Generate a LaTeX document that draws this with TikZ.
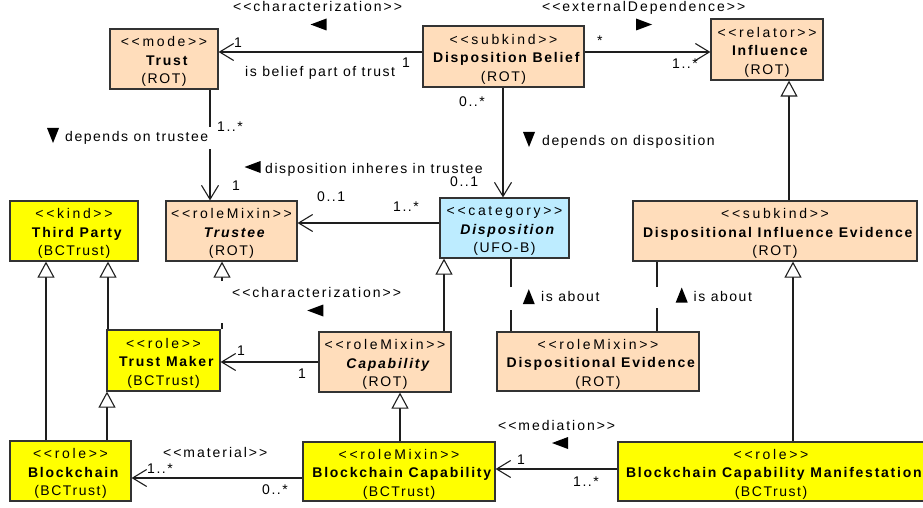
\documentclass[tikz,border=0pt]{standalone}
\usepackage{fontspec}
\setmainfont{Liberation Sans}
\newfontfamily\stfont[LetterSpace=19]{Liberation Sans}
\newfontfamily\estfont[LetterSpace=14]{Liberation Sans}
\newfontfamily\bdfont[LetterSpace=12.5]{Liberation Sans}
\newfontfamily\rgfont[LetterSpace=11]{Liberation Sans}
\usetikzlibrary{arrows.meta}
\definecolor{rot}{RGB}{255,221,187}
\definecolor{ufo}{RGB}{189,236,255}
\definecolor{bct}{RGB}{255,255,0}
\definecolor{bd}{RGB}{51,51,51}
\definecolor{ln}{RGB}{30,30,30}
\newcommand\lgl[1]{<\kern#1em<}
\newcommand\rgl[1]{>\kern#1em>}
\newcommand\est[1]{\lgl{0.14}#1\rgl{0.14}}
\newcommand\ub[4][\bfseries]{\rule{0pt}{15.5pt}{\stfont\lgl{0.19}#2\rgl{0.19}}\\{\bdfont#1 #3}\\{\rgfont(#4)}}
\begin{document}
\begin{tikzpicture}[x=1pt,y=-1pt,
  box/.style={draw=bd, line width=1.2pt, inner sep=0pt, align=center, font={\fontsize{14pt}{18.5pt}\selectfont}},
  lbl/.style={inner sep=0pt, anchor=base west, font={\rgfont\fontsize{14pt}{16pt}\selectfont}},
  slbl/.style={inner sep=0pt, anchor=base west, font={\estfont\fontsize{14pt}{16pt}\selectfont}},
  conn/.style={draw=ln, line width=1.1pt},
  assoc/.style={conn, -{Straight Barb[length=14pt,width=17pt]}},
  gen/.style={conn, -{Triangle[open,length=16pt,width=17pt,fill=white]}},
  mkL/.pic={\fill (-8,0) -- (8,-6) -- (8,6) -- cycle;},
  mkR/.pic={\fill (8,0) -- (-8,-6) -- (-8,6) -- cycle;},
  mkU/.pic={\fill (0,-7.5) -- (6,7.5) -- (-6,7.5) -- cycle;},
  mkD/.pic={\fill (0,7.5) -- (6,-7.5) -- (-6,-7.5) -- cycle;}
]
\useasboundingbox[fill=white] (0,0) rectangle (923,508);
% boxes
\node[box,fill=rot,minimum width=108pt,minimum height=60pt] (trust) at (164,59) {\ub{mode}{Trust}{ROT}};
\node[box,fill=rot,minimum width=161pt,minimum height=61pt] (db) at (503.5,56.5) {\ub{subkind}{Disposition Belief}{ROT}};
\node[box,fill=rot,minimum width=112pt,minimum height=61pt] (infl) at (767,49.5) {\ub{relator}{Influence}{ROT}};
\node[box,fill=bct,minimum width=128pt,minimum height=60pt] (third) at (74,231) {\ub{kind}{Third Party}{BCTrust}};
\node[box,fill=rot,minimum width=131pt,minimum height=60pt] (trustee) at (231.5,231) {\ub[\bfseries\itshape]{roleMixin}{Trustee}{ROT}};
\node[box,fill=ufo,minimum width=129pt,minimum height=60pt] (disp) at (504.5,228) {\ub[\bfseries\itshape]{category}{Disposition}{UFO-B}};
\node[box,fill=rot,minimum width=284pt,minimum height=60pt] (die) at (775,231) {\ub{subkind}{Dispositional Influence Evidence}{ROT}};
\node[box,fill=bct,minimum width=113pt,minimum height=61pt] (tm) at (163.5,360.5) {\ub{role}{Trust Maker}{BCTrust}};
\node[box,fill=rot,minimum width=132pt,minimum height=60pt] (cap) at (385,362) {\ub[\bfseries\itshape]{roleMixin}{Capability}{ROT}};
\node[box,fill=rot,minimum width=202pt,minimum height=59pt] (de) at (598,361.5) {\ub{roleMixin}{Dispositional Evidence}{ROT}};
\node[box,fill=bct,minimum width=121pt,minimum height=60pt] (bc) at (70.5,471) {\ub{role}{Blockchain}{BCTrust}};
\node[box,fill=bct,minimum width=192pt,minimum height=59pt] (bcap) at (399,471.5) {\ub{roleMixin}{Blockchain Capability}{BCTrust}};
\node[box,fill=bct,minimum width=306pt,minimum height=59pt] (bcm) at (771,471.5) {\ub{role}{Blockchain Capability Manifestation}{BCTrust}};
% helper coordinates
\coordinate (h52) at (0,52);
\coordinate (h223) at (0,223);
\coordinate (h362) at (0,362);
\coordinate (h478) at (0,478);
\coordinate (h469) at (0,469);
\coordinate (v503) at (503,0);
\coordinate (v210) at (210,0);
\coordinate (v222) at (222,0);
\coordinate (v511) at (511,0);
\coordinate (v657) at (657,0);
\coordinate (v444) at (444,0);
\coordinate (v789) at (789,0);
\coordinate (v793) at (793,0);
\coordinate (v46) at (46,0);
\coordinate (v108) at (108,0);
\coordinate (v107) at (107,0);
\coordinate (v400) at (400,0);
\coordinate (g1) at (210,127);
\coordinate (g2) at (210,149);
\coordinate (g3) at (222,323);
\coordinate (g4) at (222,281);
\coordinate (g5) at (511,310);
\coordinate (g6) at (511,287);
\coordinate (g7) at (657,308);
\coordinate (g8) at (657,287);
% connectors
\draw[assoc] (db.west |- h52) -- (trust.east |- h52);
\draw[assoc] (db.east |- h52) -- (infl.west |- h52);
\draw[assoc] (db.south -| v503) -- (disp.north -| v503);
\draw[conn] (trust.south -| v210) -- (g1);
\draw[assoc] (g2) -- (trustee.north -| v210);
\draw[assoc] (disp.west |- h223) -- (trustee.east |- h223);
\draw[assoc] (cap.west |- h362) -- (tm.east |- h362);
\draw[conn] (tm.north -| v222) -- (g3);
\draw[gen] (g4) -- (trustee.south -| v222);
\draw[conn] (de.north -| v511) -- (g5);
\draw[conn] (g6) -- (disp.south -| v511);
\draw[conn] (de.north -| v657) -- (g7);
\draw[conn] (g8) -- (die.south -| v657);
\draw[gen] (cap.north -| v444) -- (disp.south -| v444);
\draw[gen] (die.north -| v789) -- (infl.south -| v789);
\draw[gen] (bcm.north -| v793) -- (die.south -| v793);
\draw[gen] (bc.north -| v46) -- (third.south -| v46);
\draw[gen] (tm.north -| v108) -- (third.south -| v108);
\draw[gen] (bc.north -| v107) -- (tm.south -| v107);
\draw[gen] (bcap.north -| v400) -- (cap.south -| v400);
\draw[assoc] (bcap.west |- h478) -- (bc.east |- h478);
\draw[assoc] (bcm.west |- h469) -- (bcap.east |- h469);
% direction markers
\pic at (318.5,24.5) {mkL};
\pic at (644,24.5) {mkR};
\pic at (529,139.5) {mkD};
\pic at (53,135.5) {mkD};
\pic at (252.5,167) {mkL};
\pic at (315.3,310.5) {mkL};
\pic at (528.8,296.7) {mkU};
\pic at (681.7,295) {mkU};
\pic at (560,443) {mkL};
% labels
\node[lbl] (l1) at (245,76.5) {is belief part of trust};
\node[lbl] (m1) at (234,47.5) {1};
\node[lbl] (m2) at (402,68) {1};
\node[lbl] (m3) at (597,46) {*};
\node[lbl] (m4) at (672,69) {1..*};
\node[slbl] (s1) at (233,11.5) {\est{characterization}};
\node[slbl] (s2) at (542,11.5) {\est{externalDependence}};
\node[lbl] (m5) at (459,106.5) {0..*};
\node[lbl] (m6) at (450,186.5) {0..1};
\node[lbl] (l2) at (542,146) {depends on disposition};
\node[lbl] (l3) at (65,141.5) {depends on trustee};
\node[lbl] (m7) at (217,131.5) {1..*};
\node[lbl] (m8) at (232,190) {1};
\node[lbl] (l4) at (265,173.3) {disposition inheres in trustee};
\node[lbl] (m9) at (317,201.5) {0..1};
\node[lbl] (m10) at (393,211) {1..*};
\node[slbl] (s3) at (232,297.5) {\est{characterization}};
\node[lbl] (m11) at (237,355) {1};
\node[lbl] (m12) at (298,378) {1};
\node[lbl] (l5) at (541,301.7) {is about};
\node[lbl] (l6) at (693.5,301.7) {is about};
\node[slbl] (s4) at (163,457) {\est{material}};
\node[lbl] (m13) at (147,473) {1..*};
\node[lbl] (m14) at (262,494) {0..*};
\node[slbl] (s5) at (498,430) {\est{mediation}};
\node[lbl] (m15) at (517,464) {1};
\node[lbl] (m16) at (573,486) {1..*};
\end{tikzpicture}
\end{document}
